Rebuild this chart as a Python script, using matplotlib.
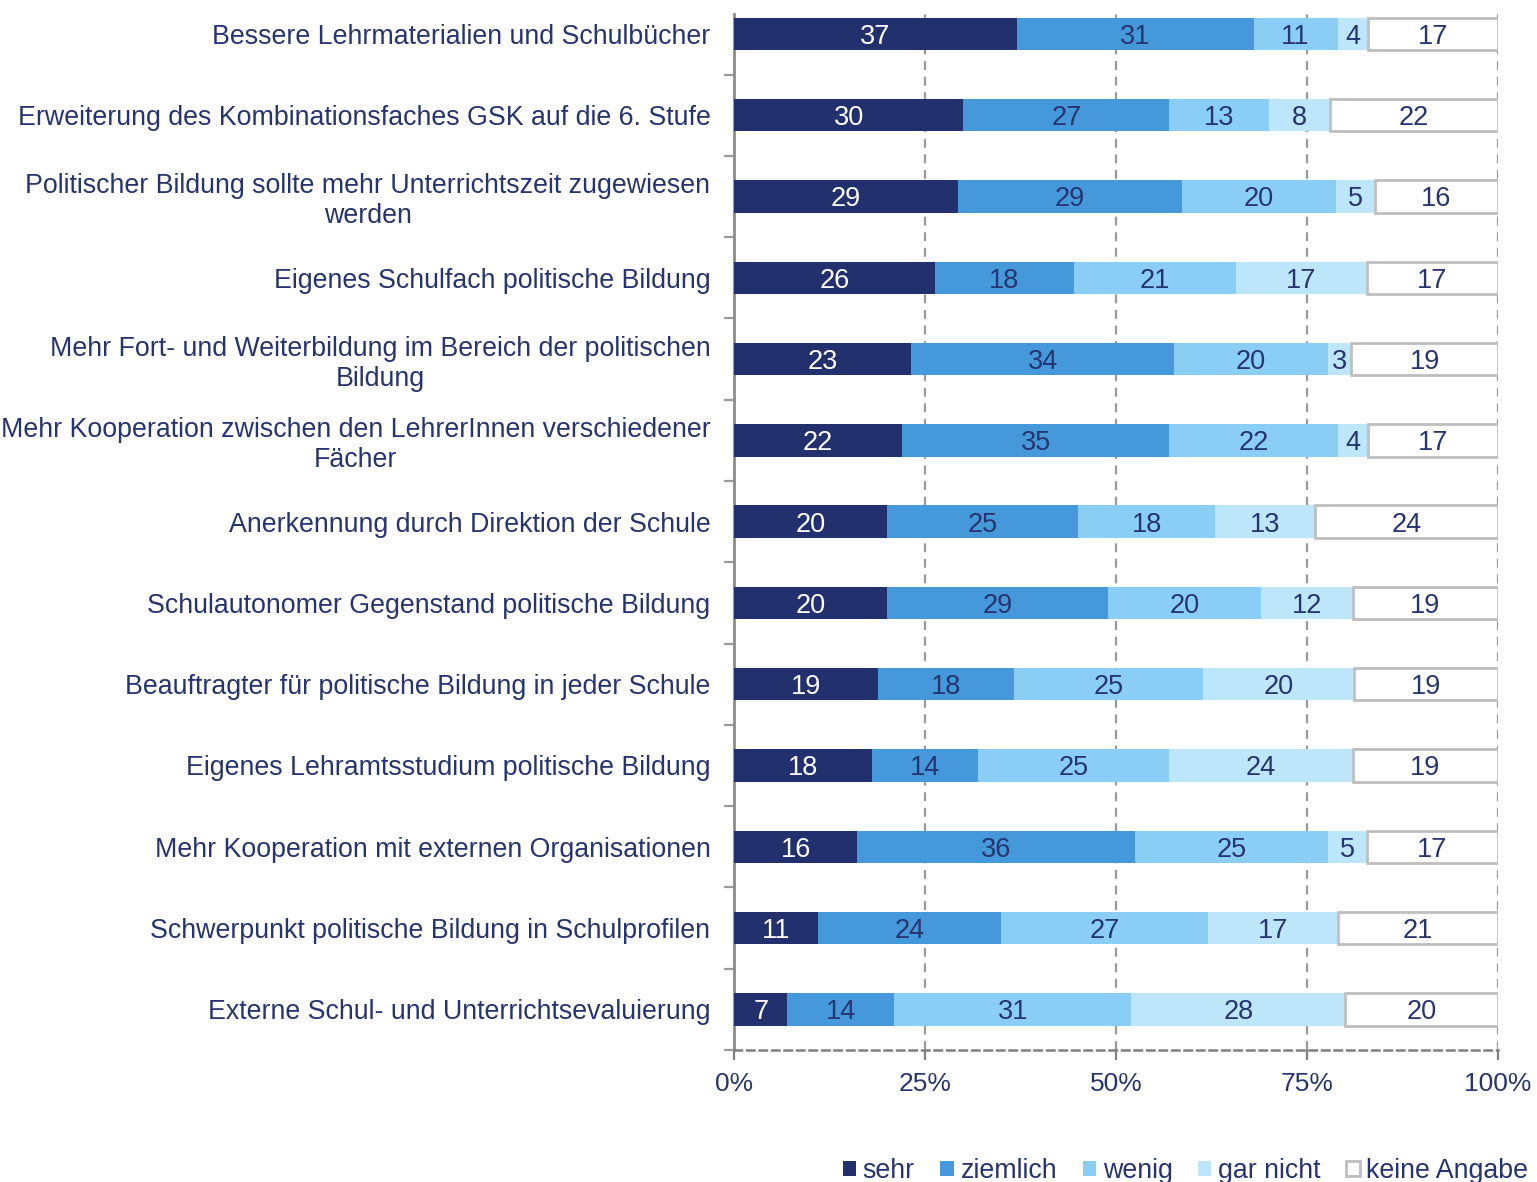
import matplotlib

matplotlib.use("Agg")
import matplotlib.pyplot as plt
import numpy as np
from matplotlib.patches import Patch

plt.rcParams["font.family"] = ["Liberation Sans", "DejaVu Sans"]

INK = "#26346F"
GRID = "#9A9A9A"

categories = [
    "Bessere Lehrmaterialien und Schulbücher",
    "Erweiterung des Kombinationsfaches GSK auf die 6. Stufe",
    "Politischer Bildung sollte mehr Unterrichtszeit zugewiesen\nwerden",
    "Eigenes Schulfach politische Bildung",
    "Mehr Fort- und Weiterbildung im Bereich der politischen\nBildung",
    "Mehr Kooperation zwischen den LehrerInnen verschiedener\nFächer",
    "Anerkennung durch Direktion der Schule",
    "Schulautonomer Gegenstand politische Bildung",
    "Beauftragter für politische Bildung in jeder Schule",
    "Eigenes Lehramtsstudium politische Bildung",
    "Mehr Kooperation mit externen Organisationen",
    "Schwerpunkt politische Bildung in Schulprofilen",
    "Externe Schul- und Unterrichtsevaluierung",
]

sehr = [37, 30, 29, 26, 23, 22, 20, 20, 19, 18, 16, 11, 7]
ziemlich = [31, 27, 29, 18, 34, 35, 25, 29, 18, 14, 36, 24, 14]
wenig = [11, 13, 20, 21, 20, 22, 18, 20, 25, 25, 25, 27, 31]
gar_nicht = [4, 8, 5, 17, 3, 4, 13, 12, 20, 24, 5, 17, 28]
keine_angabe = [17, 22, 16, 17, 19, 17, 24, 19, 19, 19, 17, 21, 20]

series = [
    ("sehr", sehr, "#22306E", "#22306E", "white"),
    ("ziemlich", ziemlich, "#4599DA", "#4599DA", INK),
    ("wenig", wenig, "#8ACDF5", "#8ACDF5", INK),
    ("gar nicht", gar_nicht, "#BDE6FB", "#BDE6FB", INK),
    ("keine Angabe", keine_angabe, "white", "#BFBFBF", INK),
]

raw = np.array([s[1] for s in series], dtype=float)
share = raw / raw.sum(axis=0) * 100  # each row stretched to 100 %

fig = plt.figure(figsize=(15.37, 11.82), dpi=100)
ax = fig.add_axes([734 / 1537, 132 / 1182, 764 / 1537, 1036 / 1182])

y = np.arange(len(categories))
left = np.zeros(len(categories))
for (name, vals, face, edge, tcol), w in zip(series, share):
    lw = 2 if face == "white" else 0
    ax.barh(y, w, left=left, height=0.4, color=face, edgecolor=edge,
            linewidth=lw, zorder=3)
    for yi, (l, wi, v) in enumerate(zip(left, w, vals)):
        ax.text(l + wi / 2, yi, str(v), ha="center", va="center_baseline",
                fontsize=19.5, color=tcol, zorder=4)
    left += w

ax.set_xlim(0, 100)
ax.set_ylim(len(categories) - 0.5, -0.245)

ax.set_xticks([0, 25, 50, 75, 100])
ax.set_xticklabels(["0%", "25%", "50%", "75%", "100%"])
for x in (25, 50, 75, 100):
    ax.axvline(x, color=GRID, ls=(0, (4, 3)), lw=1.6, zorder=1)

ax.set_yticks(y)
ax.set_yticklabels(categories, multialignment="center")
ax.set_yticks(np.arange(len(categories)) + 0.5, minor=True)
ax.tick_params(axis="y", which="major", length=0, pad=17, labelsize=19.3,
               labelcolor=INK)
ax.tick_params(axis="y", which="minor", length=7, width=1.6, color=GRID)
ax.tick_params(axis="x", length=7, width=1.6, color="#808080", pad=9,
               labelsize=19, labelcolor=INK)

for side in ("top", "right"):
    ax.spines[side].set_visible(False)
ax.spines["left"].set_color("#8C8C8C")
ax.spines["left"].set_linewidth(2)
ax.spines["bottom"].set_color("#808080")
ax.spines["bottom"].set_linewidth(1.8)
ax.spines["bottom"].set_linestyle((0, (3, 2)))

handles = [Patch(facecolor=face, edgecolor=edge, linewidth=2 if face == "white" else 0)
           for _, _, face, edge, _ in series]
fig.legend(handles, [s[0] for s in series], loc="center right",
           bbox_to_anchor=(1.003, 11 / 1182), ncol=5, frameon=False,
           fontsize=19.3, labelcolor=INK, handlelength=0.5, handleheight=0.5,
           handletextpad=0.25, columnspacing=0.95, borderpad=0)

fig.savefig("out.png", dpi=100)
